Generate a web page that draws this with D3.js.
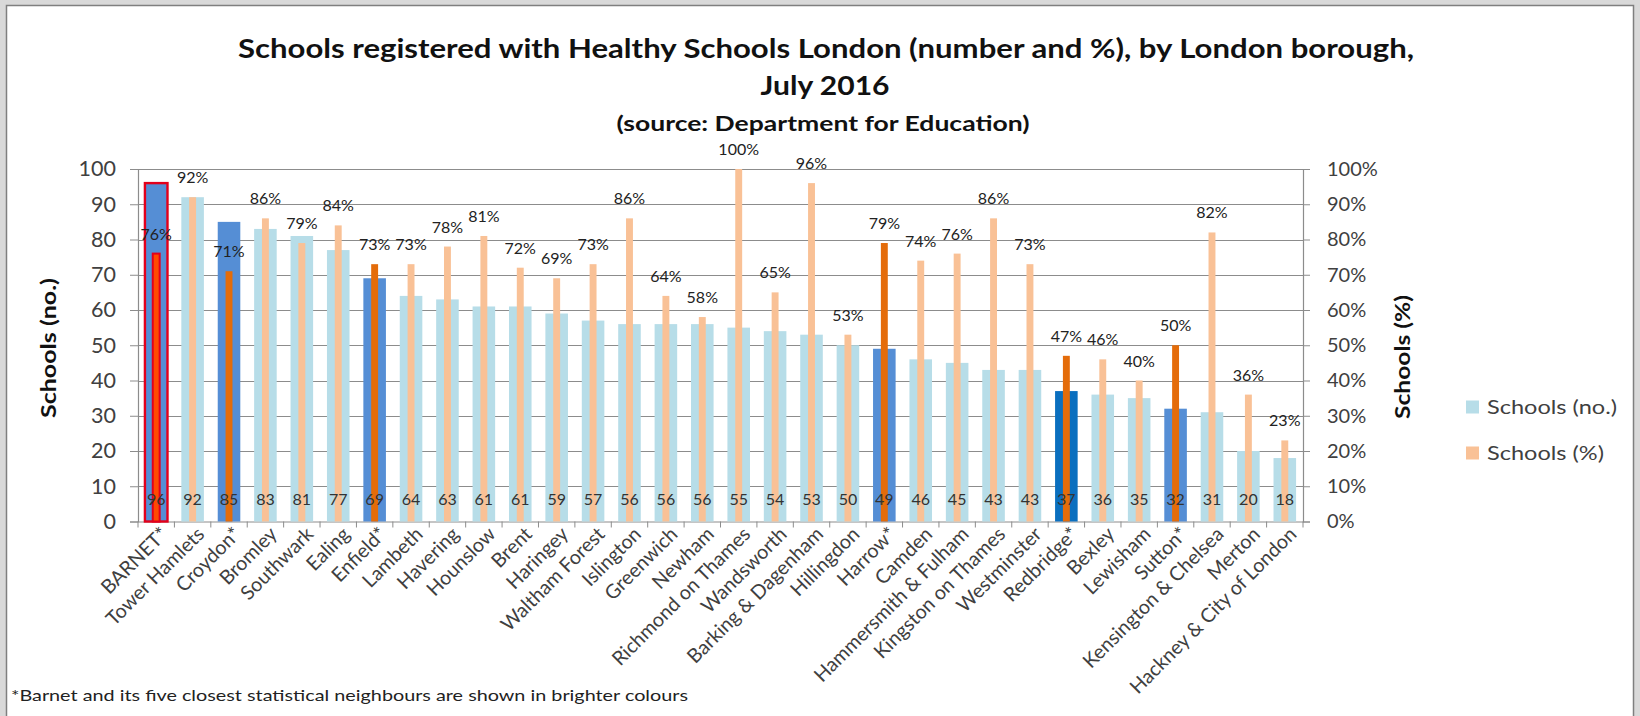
<!DOCTYPE html>
<html><head><meta charset="utf-8">
<script src="https://cdn.jsdelivr.net/npm/d3@7"></script>
<style>
html,body{margin:0;padding:0;background:#d9d9d9;overflow:hidden;}
svg{display:block;font-family:Lato,"Open Sans",sans-serif;}
</style></head><body>
<svg id="chart" width="1640" height="716"></svg>
<script>
// ---- data ----
const boroughs = ["BARNET*","Tower Hamlets","Croydon*","Bromley","Southwark","Ealing","Enfield*","Lambeth","Havering","Hounslow","Brent","Haringey","Waltham Forest","Islington","Greenwich","Newham","Richmond on Thames","Wandsworth","Barking & Dagenham","Hillingdon","Harrow*","Camden","Hammersmith & Fulham","Kingston on Thames","Westminster","Redbridge*","Bexley","Lewisham","Sutton*","Kensington & Chelsea","Merton","Hackney & City of London"];
const schoolsNo = [96,92,85,83,81,77,69,64,63,61,61,59,57,56,56,56,55,54,53,50,49,46,45,43,43,37,36,35,32,31,20,18];
const schoolsPct = [76,92,71,86,79,84,73,73,78,81,72,69,73,86,64,58,100,65,96,53,79,74,76,86,73,47,46,40,50,82,36,23];
const neighbours = ["Croydon*","Enfield*","Harrow*","Sutton*"];
const darkNeighbour = ["Redbridge*"];
const focusBorough = "BARNET*";
const leftTicks = [0,10,20,30,40,50,60,70,80,90,100];
const rightTicks = [0,10,20,30,40,50,60,70,80,90,100];
const seriesNames = ["Schools (no.)","Schools (%)"];
const titleLines = ["Schools registered with Healthy Schools London (number and %), by London borough,","July 2016"];
const subtitle = "(source: Department for Education)";
const footnote = "*Barnet and its five closest statistical neighbours are shown in brighter colours";

const rows = boroughs.map((b,i)=>({b, n:schoolsNo[i], p:schoolsPct[i]}));

const C = {
  lightBlue:"#b7dde8", lightOrange:"#f9c196", brightBlue:"#558ed5", darkBlue:"#0a6fbf",
  brightOrange:"#e46c0a", barnetOrange:"#ff4a00", red:"#e3001b", grid:"#8c8c8c", text:"#404040"
};

const svg = d3.select("#chart");
// chart frame
svg.append("rect").attr("x",6.5).attr("y",5.5).attr("width",1627).attr("height",720)
  .attr("fill","#fff").attr("stroke","#7f7f7f").attr("stroke-width",1.5);

const L=138, R=1303, T=169, B=521.5;
const y = d3.scaleLinear().domain([0,100]).range([B,T]);
const y2 = d3.scaleLinear().domain([0,100]).range([B,T]);
const xCat = d3.scaleBand().domain(boroughs).range([L,R]).padding(0);
const xNo = d3.scaleBand().domain(boroughs).range([L,R]).paddingInner(0.38).paddingOuter(0.19);
const xPct = d3.scaleBand().domain(boroughs).range([L,R]).paddingInner(0.81).paddingOuter(0.405);

// gridlines
svg.append("g").selectAll("line").data(leftTicks.filter(d=>d>0)).join("line")
  .attr("x1",L).attr("x2",R).attr("y1",d=>Math.round(y(d))+0.5).attr("y2",d=>Math.round(y(d))+0.5)
  .attr("stroke",C.grid).attr("stroke-width",1);

// axes
const gL = svg.append("g").attr("transform",`translate(${L},0)`)
  .call(d3.axisLeft(y).tickValues(leftTicks).tickSize(8).tickPadding(14));
const gR = svg.append("g").attr("transform",`translate(${R},0)`)
  .call(d3.axisRight(y2).tickValues(rightTicks).tickSize(7).tickPadding(17).tickFormat(d=>d+"%"));
const gB = svg.append("g").attr("transform",`translate(0,${B})`)
  .call(d3.axisBottom(xCat).tickSize(0).tickFormat(""));
[gL,gR,gB].forEach(g=>{
  g.selectAll(".domain").attr("stroke",C.grid).attr("stroke-width",1.2);
  g.selectAll(".tick line").attr("stroke",C.grid);
  g.selectAll("text").attr("fill",C.text).attr("font-size",20).attr("font-family","Lato");
});
gL.selectAll("text").attr("font-size",21.5);
// category boundary ticks
svg.append("g").selectAll("line").data(d3.range(boroughs.length+1)).join("line")
  .attr("x1",i=>L+i*xCat.step()).attr("x2",i=>L+i*xCat.step())
  .attr("y1",B).attr("y2",B+6).attr("stroke",C.grid);

function noFill(d){
  if(d.b===focusBorough) return C.brightBlue;
  if(darkNeighbour.includes(d.b)) return C.darkBlue;
  if(neighbours.includes(d.b)) return C.brightBlue;
  return C.lightBlue;
}
function pctFill(d){
  if(d.b===focusBorough) return C.barnetOrange;
  if(neighbours.includes(d.b)||darkNeighbour.includes(d.b)) return C.brightOrange;
  return C.lightOrange;
}

// number bars
svg.append("g").selectAll("rect").data(rows).join("rect")
  .attr("x",d=>xNo(d.b)).attr("width",xNo.bandwidth())
  .attr("y",d=>y(d.n)).attr("height",d=>B-y(d.n))
  .attr("fill",noFill)
  .attr("stroke",d=>d.b===focusBorough?C.red:"none").attr("stroke-width",2.4);

// percentage bars
svg.append("g").selectAll("rect").data(rows).join("rect")
  .attr("x",d=>xPct(d.b)).attr("width",xPct.bandwidth())
  .attr("y",d=>y2(d.p)).attr("height",d=>B-y2(d.p))
  .attr("fill",pctFill)
  .attr("stroke",d=>d.b===focusBorough?C.red:"none").attr("stroke-width",2);

// number labels
svg.append("g").selectAll("text").data(rows).join("text")
  .attr("x",d=>xCat(d.b)+xCat.bandwidth()/2).attr("y",505)
  .attr("text-anchor","middle").attr("font-size",16).attr("fill","#333")
  .text(d=>d.n);

// percentage labels
svg.append("g").selectAll("text").data(rows).join("text")
  .attr("x",d=>xCat(d.b)+xCat.bandwidth()/2).attr("y",d=>y2(d.p)-14)
  .attr("text-anchor","middle").attr("font-size",16).attr("fill","#222")
  .text(d=>d.p+"%");

// x labels
const xl = svg.append("g").selectAll("text").data(boroughs).join("text")
  .attr("transform",d=>`translate(${xCat(d)+xCat.bandwidth()/2+8},${B+9}) rotate(-45)`)
  .attr("text-anchor","end").attr("dy","0.35em").attr("font-size",18).attr("fill",C.text)
  .text(d=>d);
{
  const longest = xl.filter(d=>d==="Hackney & City of London").node();
  const w = longest.getComputedTextLength();
  const fs = 18*226/w;
  xl.attr("font-size",fs);
}

function fitText(sel,target){ sel.attr("textLength",target).attr("lengthAdjust","spacingAndGlyphs"); return sel; }

// titles
fitText(svg.append("text").attr("x",826).attr("y",58).attr("text-anchor","middle")
  .attr("font-size",26).attr("font-weight","bold").attr("fill","#111").text(titleLines[0]),1176);
fitText(svg.append("text").attr("x",825).attr("y",95).attr("text-anchor","middle")
  .attr("font-size",26).attr("font-weight","bold").attr("fill","#111").text(titleLines[1]),129);
fitText(svg.append("text").attr("x",823).attr("y",131).attr("text-anchor","middle")
  .attr("font-size",21).attr("font-weight","bold").attr("fill","#111").text(subtitle),413);

// axis titles
fitText(svg.append("text").attr("transform","translate(56,348) rotate(-90)").attr("text-anchor","middle")
  .attr("font-size",21).attr("font-weight","bold").attr("fill","#111").text("Schools (no.)"),140);
fitText(svg.append("text").attr("transform","translate(1410,357) rotate(-90)").attr("text-anchor","middle")
  .attr("font-size",21).attr("font-weight","bold").attr("fill","#111").text("Schools (%)"),124);

// legend
const leg = svg.append("g");
const legY = [407,453];
const legC = [C.lightBlue,C.lightOrange];
const legW = [130,117];
seriesNames.forEach((s,i)=>{
  leg.append("rect").attr("x",1466).attr("y",legY[i]-6.5).attr("width",13).attr("height",13).attr("fill",legC[i]);
  fitText(leg.append("text").attr("x",1487).attr("y",legY[i]+7).attr("font-size",20).attr("fill",C.text).text(s),legW[i]);
});

// footnote
fitText(svg.append("text").attr("x",11).attr("y",701).attr("font-size",16).attr("fill","#222").text(footnote),677);
</script>
</body></html>
